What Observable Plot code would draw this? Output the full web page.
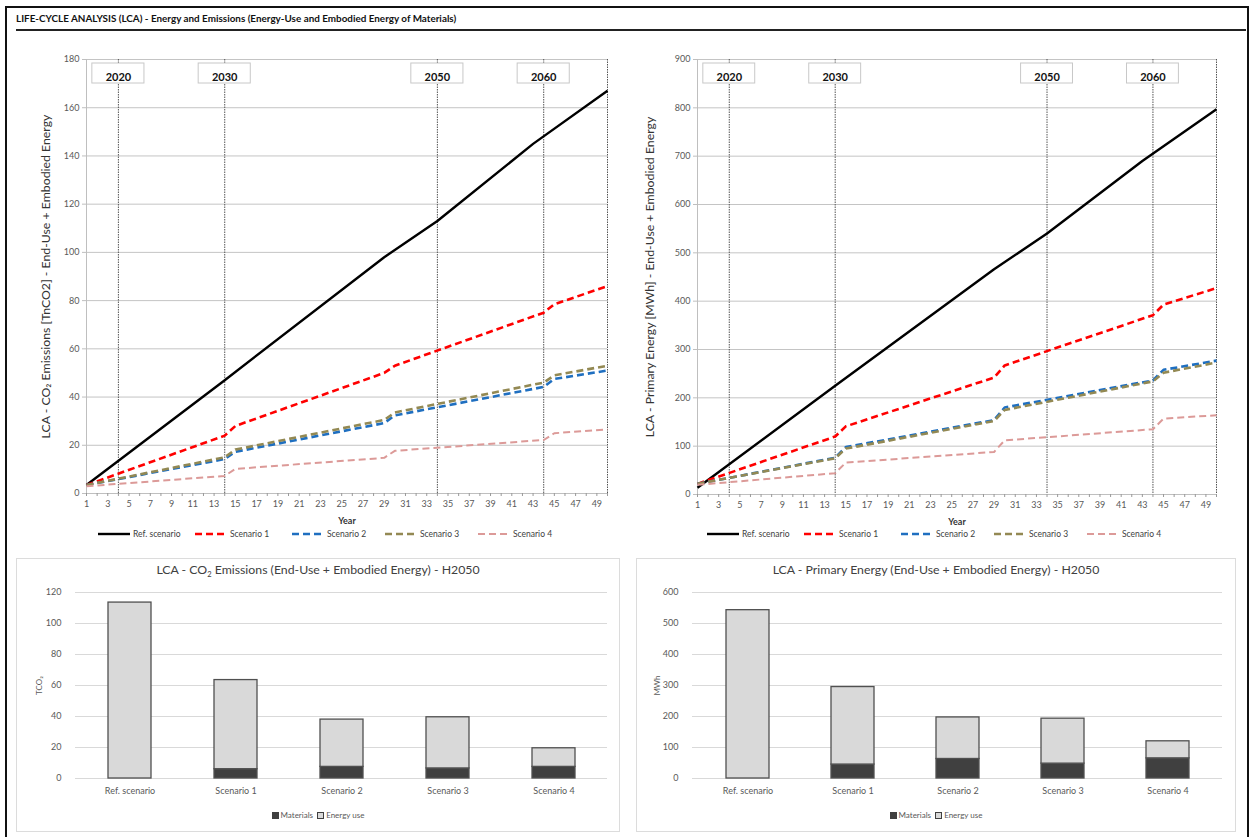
<!DOCTYPE html>
<html><head><meta charset="utf-8">
<script src="https://cdn.jsdelivr.net/npm/d3@7"></script>
<script src="https://cdn.jsdelivr.net/npm/@observablehq/plot@0.6"></script>
<style>
body{margin:0;background:#fff;}
#page{position:relative;width:1252px;height:837px;overflow:hidden;font-family:Lato,"Open Sans",sans-serif;background:#fff;}
#frame{position:absolute;left:5px;top:6px;width:1244px;height:850px;border:2px solid #111;box-sizing:border-box;}
#title{position:absolute;left:16px;top:12px;font-weight:bold;font-size:9.9px;color:#111;white-space:nowrap;}
#rule{position:absolute;left:16px;top:29px;width:1230px;height:2px;background:#222;}
.chart{position:absolute;}
.legend{position:absolute;top:529px;height:10px;display:flex;align-items:center;font-size:8.5px;color:#404040;white-space:nowrap;}
.legend .item{display:flex;align-items:center;}
.legend svg{margin-right:3px;}
.box{position:absolute;top:558px;height:274px;border:1px solid #dcdcdc;box-sizing:border-box;}
.btitle{position:absolute;top:562px;text-align:center;font-size:12.3px;color:#404040;white-space:nowrap;}
.btitle sub{font-size:7.5px;}
.blegend{position:absolute;top:810px;display:flex;justify-content:center;align-items:center;font-size:8px;color:#595959;white-space:nowrap;}
.sw{display:inline-block;width:7px;height:7px;box-sizing:border-box;border:1px solid #404040;margin-right:2px;}
</style></head>
<body>
<div id="page">
  <div id="frame"></div>
  <div id="title">LIFE-CYCLE ANALYSIS (LCA) - Energy and Emissions (Energy-Use and Embodied Energy of Materials)</div>
  <div id="rule"></div>
  <div id="tl" class="chart" style="left:0px;top:50px"></div>
  <div id="tr" class="chart" style="left:626px;top:50px"></div>
  <div id="lgL" class="legend" style="left:98px"></div>
  <div id="lgR" class="legend" style="left:707px"></div>
  <div class="box" style="left:16px;width:604px"></div>
  <div class="box" style="left:636px;width:600px"></div>
  <div class="btitle" style="left:16px;width:604px">LCA - CO<sub>2</sub> Emissions (End-Use + Embodied Energy) - H2050</div>
  <div class="btitle" style="left:636px;width:600px">LCA - Primary Energy (End-Use + Embodied Energy) - H2050</div>
  <div id="bl" class="chart" style="left:16px;top:580px"></div>
  <div id="br" class="chart" style="left:636px;top:580px"></div>
  <div class="blegend" style="left:16px;width:604px"><span class="sw" style="background:#404040"></span>Materials&nbsp;&nbsp;<span class="sw" style="background:#d9d9d9"></span>Energy use</div>
  <div class="blegend" style="left:636px;width:600px"><span class="sw" style="background:#404040"></span>Materials&nbsp;&nbsp;<span class="sw" style="background:#d9d9d9"></span>Energy use</div>
</div>
<script>
// ---------- data ----------
const scenarios = ["Ref. scenario", "Scenario 1", "Scenario 2", "Scenario 3", "Scenario 4"];
const refYears = [1, 14, 29, 34, 43, 50];
const stepYears = [1, 14, 15, 29, 30, 44, 45, 50];
const co2Ref = [3.5, 47, 98, 113, 145, 167];
const co2S1 = [3.5, 24, 28, 50, 53, 75, 78.5, 86];
const co2S2 = [3.5, 14.3, 17.3, 29.2, 32.4, 44.2, 47.5, 51];
const co2S3 = [3.5, 15, 18.2, 30.5, 33.6, 46, 49, 53];
const co2S4 = [3, 7.3, 10.2, 14.8, 17.7, 22.2, 25, 26.6];
const enRef = [14, 225, 466, 540, 690, 797];
const enS1 = [22, 120, 141, 242, 267, 371, 393, 427];
const enS2 = [22, 76, 98, 154, 180, 236, 258, 277];
const enS3 = [22, 75, 95, 152, 175, 234, 252, 273];
const enS4 = [20, 44, 66, 88, 112, 135, 157, 164];
const markerIdx = [4, 14, 34, 44];
const markerLabels = ["2020", "2030", "2050", "2060"];
const yearTicks = d3.range(1, 51);
const co2Ticks = [0, 20, 40, 60, 80, 100, 120, 140, 160, 180];
const enTicks = [0, 100, 200, 300, 400, 500, 600, 700, 800, 900];

const barCats = ["Ref. scenario", "Scenario 1", "Scenario 2", "Scenario 3", "Scenario 4"];
const co2Materials = [0, 6, 7.5, 6.5, 7.5];
const co2EnergyUse = [113.5, 57.5, 30.5, 33, 12];
const enMaterials = [0, 45, 63, 48, 65];
const enEnergyUse = [543, 250, 134, 145, 55];
const co2BarTicks = [0, 20, 40, 60, 80, 100, 120];
const enBarTicks = [0, 100, 200, 300, 400, 500, 600];

// ---------- styles ----------
const seriesStyle = [
  {stroke: "#000000", strokeWidth: 2.4, dash: null},
  {stroke: "#ff0000", strokeWidth: 2.6, dash: "7,4"},
  {stroke: "#1f6fc0", strokeWidth: 2.6, dash: "7,4"},
  {stroke: "#938953", strokeWidth: 2.6, dash: "7,4"},
  {stroke: "#dc9a98", strokeWidth: 2, dash: "7,4"}
];

function lineChart({vals, yDomain, yTicks, ytitle, width, marginLeft, marginRight, marginBottom, ytitleDx}) {
  const height = 480, marginTop = 9;
  const frameH = height - marginTop - marginBottom;
  const markers = markerIdx.map((idx, i) => ({idx, label: markerLabels[i]}));
  const lines = vals.map((arr, s) => {
    const yrs = s === 0 ? refYears : stepYears;
    const rows = arr.map((v, i) => ({year: yrs[i], value: v}));
    const st = seriesStyle[s];
    return Plot.line(rows, {x: "year", y: "value", stroke: st.stroke, strokeWidth: st.strokeWidth,
      strokeDasharray: st.dash || undefined, strokeLinejoin: "round", strokeLinecap: "butt"});
  });
  return Plot.plot({
    width, height, marginLeft, marginRight, marginTop, marginBottom,
    style: {fontFamily: "Lato, 'Open Sans', sans-serif", fontSize: "9px", color: "#595959", background: "transparent", overflow: "visible"},
    x: {domain: [1, 50]},
    y: {domain: yDomain},
    marks: [
      Plot.gridY(yTicks, {stroke: "#c4c4c4", strokeOpacity: 1}),
      Plot.ruleX([...markerIdx, 50], {stroke: "#555", strokeDasharray: "1.5,1", strokeWidth: 1}),
      Plot.ruleX([1], {stroke: "#bfbfbf"}),
      Plot.ruleY([0], {stroke: "#bfbfbf"}),
      Plot.axisY({ticks: yTicks, tickSize: 4, tickPadding: 3, label: null, stroke: "#bfbfbf"}),
      Plot.axisX({ticks: yearTicks, tickSize: 3, tickPadding: 4, label: null, stroke: "#999",
        tickFormat: d => d % 2 ? String(d) : ""}),
      Plot.text(["Year"], {frameAnchor: "bottom", dy: 30, fontWeight: "bold", fill: "#333", fontSize: 9}),
      Plot.text([ytitle], {frameAnchor: "left", textAnchor: "middle", dx: ytitleDx, rotate: -90, fontSize: 12.3, fill: "#333"}),
      Plot.rect(markers, {x1: d => d.idx - 2.45, x2: d => d.idx + 2.45, insetTop: 4, insetBottom: frameH - 24,
        fill: "white", stroke: "#c8c8c8"}),
      Plot.text(markers, {x: "idx", text: "label", frameAnchor: "top", dy: 14, fontWeight: "bold", fontSize: 11, fill: "#111"}),
      ...lines
    ]
  });
}

function barChart({cats, materials, energy, yDomain, yTicks, ytitle, width, marginLeft, marginRight, ytitleDx}) {
  const rows = [];
  cats.forEach((c, i) => {
    rows.push({cat: c, part: "Materials", v: materials[i]});
    rows.push({cat: c, part: "Energy use", v: energy[i]});
  });
  return Plot.plot({
    width, height: 225, marginLeft, marginRight, marginTop: 12, marginBottom: 27,
    style: {fontFamily: "Lato, 'Open Sans', sans-serif", fontSize: "9px", color: "#595959", background: "transparent", overflow: "visible"},
    x: {domain: cats, paddingInner: 0.595, paddingOuter: 0.3, label: null},
    y: {domain: yDomain, label: null},
    color: {domain: ["Materials", "Energy use"], range: ["#404040", "#d9d9d9"]},
    marks: [
      Plot.gridY(yTicks, {stroke: "#d9d9d9", strokeOpacity: 1}),
      Plot.axisY({ticks: yTicks, tickSize: 0, tickPadding: 14, label: null}),
      Plot.axisX({tickSize: 0, tickPadding: 9, label: null}),
      Plot.barY(rows.filter(d => d.v > 0), {x: "cat", y: "v", fill: "part", stroke: "#505050", strokeWidth: 1.3}),
      Plot.text([ytitle], {frameAnchor: "left", textAnchor: "middle", dx: ytitleDx, rotate: -90, fontSize: 8, fill: "#595959"})
    ]
  });
}

document.getElementById("tl").append(lineChart({
  vals: [co2Ref, co2S1, co2S2, co2S3, co2S4], yDomain: [0, 180], yTicks: co2Ticks,
  ytitle: "LCA - CO₂ Emissions [TnCO2] - End-Use + Embodied Energy",
  width: 620, marginLeft: 86, marginRight: 13, marginBottom: 37, ytitleDx: -40
}));
document.getElementById("tr").append(lineChart({
  vals: [enRef, enS1, enS2, enS3, enS4], yDomain: [0, 900], yTicks: enTicks,
  ytitle: "LCA - Primary Energy [MWh] - End-Use + Embodied Energy",
  width: 626, marginLeft: 71, marginRight: 36, marginBottom: 36, ytitleDx: -47
}));
document.getElementById("bl").append(barChart({
  cats: barCats, materials: co2Materials, energy: co2EnergyUse, yDomain: [0, 120], yTicks: co2BarTicks,
  ytitle: "TCO₂", width: 604, marginLeft: 59, marginRight: 13, ytitleDx: -36
}));
document.getElementById("br").append(barChart({
  cats: barCats, materials: enMaterials, energy: enEnergyUse, yDomain: [0, 600], yTicks: enBarTicks,
  ytitle: "MWh", width: 600, marginLeft: 56, marginRight: 14, ytitleDx: -35
}));

// legends
const itemWidths = [97, 97, 93, 93, null];
for (const id of ["lgL", "lgR"]) {
  const lg = document.getElementById(id);
  scenarios.forEach((name, i) => {
    const st = seriesStyle[i];
    const item = document.createElement("div");
    item.className = "item";
    if (itemWidths[i]) item.style.width = itemWidths[i] + "px";
    item.innerHTML = `<svg width="32" height="8"><line x1="0" x2="32" y1="4" y2="4" stroke="${st.stroke}" stroke-width="${st.strokeWidth}" ${st.dash ? `stroke-dasharray="${st.dash}"` : ""}/></svg><span>${name}</span>`;
    lg.append(item);
  });
}
</script>
</body></html>
